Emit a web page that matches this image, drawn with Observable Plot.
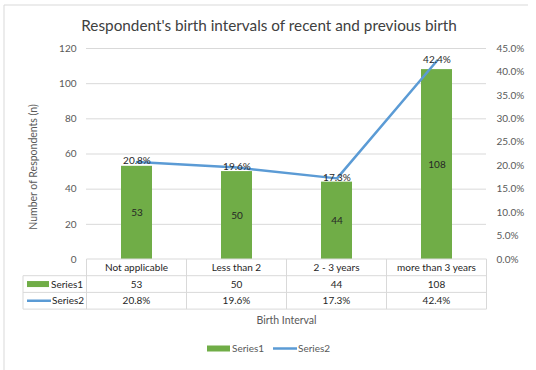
<!DOCTYPE html>
<html><head><meta charset="utf-8">
<script src="https://cdn.jsdelivr.net/npm/d3@7"></script>
<script src="https://cdn.jsdelivr.net/npm/@observablehq/plot@0.6"></script>
<style>body{margin:0;background:#fff} svg{display:block}</style>
</head><body><div id="chart"></div>
<script>
const categories = ["Not applicable", "Less than 2", "2 - 3 years", "more than 3 years"];
const series1 = [53, 50, 44, 108];
const series2 = [20.8, 19.6, 17.3, 42.4];
const leftTicks = [0, 20, 40, 60, 80, 100, 120];
const rightTicks = [0, 5, 10, 15, 20, 25, 30, 35, 40, 45];
const seriesNames = ["Series1", "Series2"];
const title = "Respondent's birth intervals of recent and previous birth";
const yTitle = "Number of Respondents (n)";
const xTitle = "Birth Interval";

const W = 536, H = 370;
const Y_MAX = 120, P_MAX = 45;
const toY = p => p * Y_MAX / P_MAX;
const rows = categories.map((c, i) => ({c, n: series1[i], p: series2[i], py: toY(series2[i])}));
const font = "Lato, 'Open Sans', sans-serif";
const green = "#70AD47", blue = "#5B9BD5", grid = "#D9D9D9", axisCol = "#595959", labelCol = "#262626";
const FS = "10px";

const chart = Plot.plot({
  width: W, height: H,
  marginLeft: 86, marginRight: 50, marginTop: 48, marginBottom: 111,
  style: {fontFamily: font, fontSize: FS, color: axisCol, background: "#fff"},
  x: {domain: categories, paddingInner: 0.69, paddingOuter: 0.345, axis: null},
  y: {domain: [0, Y_MAX], axis: null},
  marks: [
    Plot.gridY(leftTicks.filter(d => d > 0), {stroke: grid, strokeOpacity: 1}),
    Plot.axisY(leftTicks, {anchor: "left", tickSize: 0, tickPadding: 10, label: null}),
    Plot.axisY(rightTicks.map(toY), {anchor: "right", tickSize: 0, tickPadding: 10, label: null,
      tickFormat: d => (d * P_MAX / Y_MAX).toFixed(1) + "%"}),
    Plot.barY(rows, {x: "c", y: "n", fill: green}),
    Plot.text(rows, {x: "c", y: d => d.n / 2, text: d => String(d.n), fill: labelCol}),
    Plot.line(rows, {x: "c", y: "py", stroke: blue, strokeWidth: 2.5}),
    Plot.text(rows, {x: "c", y: "py", text: d => d.p.toFixed(1) + "%", dy: -1, fill: labelCol})
  ]
});

const svg = d3.select(chart);
const xs = chart.scale("x"), ys = chart.scale("y");
const step = xs.step, bw = xs.bandwidth;
const cellL = c => xs.apply(c) + bw / 2 - step / 2;
const cellC = c => xs.apply(c) + bw / 2;
const left0 = cellL(categories[0]);
const right0 = cellL(categories[categories.length - 1]) + step;
const t0 = ys.apply(0);
const rowH = 16.7;
const rY = [t0, t0 + rowH, t0 + 2 * rowH, t0 + 3 * rowH];
const tableLeft = 23;
const g = svg.append("g").attr("font-family", font).attr("font-size", FS).attr("fill", labelCol);
const ln = (x1, y1, x2, y2, col, w) => g.append("line").attr("x1", x1).attr("y1", y1).attr("x2", x2).attr("y2", y2)
  .attr("stroke", col || grid).attr("stroke-width", w || 1);
ln(left0, rY[0], right0, rY[0]);
for (let k = 1; k < 4; k++) ln(tableLeft, rY[k], right0, rY[k]);
ln(tableLeft, rY[1], tableLeft, rY[3]);
categories.forEach(c => ln(cellL(c), rY[0], cellL(c), rY[3]));
ln(right0, rY[0], right0, rY[3]);
const txt = (x, y, s, anchor, size, col) => g.append("text").attr("x", x).attr("y", y).attr("dy", "0.35em")
  .attr("text-anchor", anchor || "middle").attr("font-size", size || null).attr("fill", col || labelCol).text(s);
categories.forEach((c, i) => {
  txt(cellC(c), (rY[0] + rY[1]) / 2, c);
  txt(cellC(c), (rY[1] + rY[2]) / 2, String(series1[i]));
  txt(cellC(c), (rY[2] + rY[3]) / 2, series2[i].toFixed(1) + "%");
});
// table legend keys
const m1 = (rY[1] + rY[2]) / 2, m2 = (rY[2] + rY[3]) / 2;
g.append("rect").attr("x", 27).attr("y", m1 - 3).attr("width", 22).attr("height", 6).attr("fill", green);
txt(51, m1, seriesNames[0], "start");
ln(27, m2, 51, m2, blue, 2.5);
txt(52, m2, seriesNames[1], "start");

// titles
txt(269, 26, title, "middle", "15.3px", "#404040");
g.append("text").attr("transform", "translate(33,167) rotate(-90)").attr("dy", "0.35em")
  .attr("text-anchor", "middle").attr("fill", axisCol).attr("font-size", "10.5px").text(yTitle);
txt((left0 + right0) / 2, 320, xTitle, "middle", "10.5px", axisCol);

// bottom legend
const ly = 348.5;
g.append("rect").attr("x", 207).attr("y", ly - 3).attr("width", 23).attr("height", 6).attr("fill", green);
txt(232, ly, seriesNames[0], "start", null, axisCol);
ln(273, ly, 297, ly, blue, 2.5);
txt(298, ly, seriesNames[1], "start", null, axisCol);

// outer border
ln(4, 5, 528, 5, grid, 1);
ln(4, 5, 4, H, grid, 1);

document.getElementById("chart").appendChild(chart);
</script>
</body></html>
